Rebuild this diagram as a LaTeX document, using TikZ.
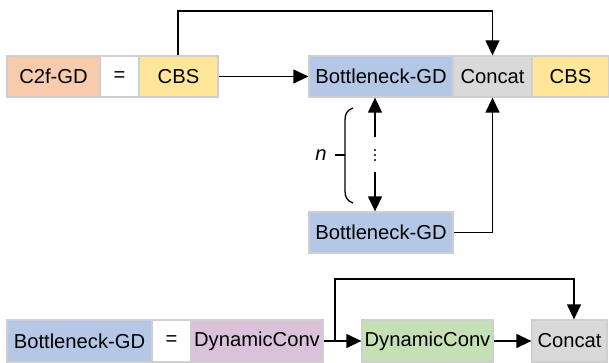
\documentclass[tikz,border=0pt]{standalone}
\usepackage{fontspec}
\setmainfont{Liberation Sans}
\usetikzlibrary{arrows.meta}
\definecolor{cpeach}{HTML}{F8CBAD}
\definecolor{cyellow}{HTML}{FFE699}
\definecolor{cblue}{HTML}{B4C7E7}
\definecolor{cgray}{HTML}{D9D9D9}
\definecolor{cpurple}{HTML}{DAC3DA}
\definecolor{cgreen}{HTML}{C5E0B4}
\definecolor{cborder}{HTML}{CFCFCF}
\begin{document}
\begin{tikzpicture}[x=0.5pt,y=-0.5pt,
  box/.style={draw=cborder,line width=0.65pt,inner sep=0pt,minimum height=20.5pt,
    font=\fontsize{10.1}{12}\selectfont},
  arr/.style={line width=0.65pt,-{Triangle[length=7.5pt,width=7pt]}},
  ln/.style={line width=0.65pt}]
\useasboundingbox (0,0) rectangle (609,363);
% top row
\node[box,fill=cpeach,minimum width=46.5pt] (c2f) at (53.5,76.5) {C2f-GD};
\node[box,fill=white,minimum width=19.5pt] (eq1) at (119.5,76.5) {=};
\node[box,fill=cyellow,minimum width=39.5pt] (cbs1) at (178.5,76.5) {CBS};
\node[box,fill=cblue,minimum width=72pt] (bgd1) at (381,76.5) {Bottleneck-GD};
\node[box,fill=cgray,minimum width=39.5pt] (cat1) at (492.5,76.5) {Concat};
\node[box,fill=cyellow,minimum width=38.5pt] (cbs2) at (570.5,76.5) {CBS};
% second bottleneck
\node[box,fill=cblue,minimum width=72pt] (bgd2) at (381,232.5) {Bottleneck-GD};
% connectors top
\draw[arr] (cbs1.east) -- (bgd1.west);
\coordinate (tl) at (178,11);
\draw[arr] (cbs1.north -| tl) -- (tl) -| (cat1.north);
\draw[arr] (bgd2.east) -| (cat1.south);
% repeat arrows
\coordinate (dots) at (375,155);
\foreach \dy in {-5,0,5} \fill ([yshift=-\dy*0.5pt]dots) circle (0.6pt);
\coordinate (u) at (375,137);
\coordinate (d) at (375,172);
\draw[arr] (u) -- (u |- bgd1.south);
\draw[arr] (d) -- (d |- bgd2.north);
% brace
\draw[ln] (353,108) .. controls (347,110) and (345,114) .. (345,120) -- (345,191)
  .. controls (345,197) and (347,201) .. (353,203);
\draw[ln] (345,155) -- (335,155);
\node[font=\fontsize{10.1}{12}\selectfont\itshape] (n) at (321,155) {n};
% bottom row
\node[box,fill=cblue,minimum width=72.5pt,minimum height=21pt] (bgd3) at (79.5,341) {Bottleneck-GD};
\node[box,fill=white,minimum width=19.5pt,minimum height=21pt] (eq2) at (171.5,341) {=};
\node[box,fill=cpurple,minimum width=66pt,minimum height=21pt] (dc1) at (257,341) {DynamicConv};
\node[box,fill=cgreen,minimum width=65.5pt,minimum height=21pt] (dc2) at (427.5,341) {DynamicConv};
\node[box,fill=cgray,minimum width=37.5pt,minimum height=21pt] (cat2) at (569.5,341) {Concat};
\draw[arr] (dc1.east) -- (dc2.west);
\draw[arr] (dc2.east) -- (cat2.west);
\coordinate (b) at (335,341);
\coordinate (t) at (574,279);
\draw[arr] (b) |- (t) -- (t |- cat2.north);
\end{tikzpicture}
\end{document}
